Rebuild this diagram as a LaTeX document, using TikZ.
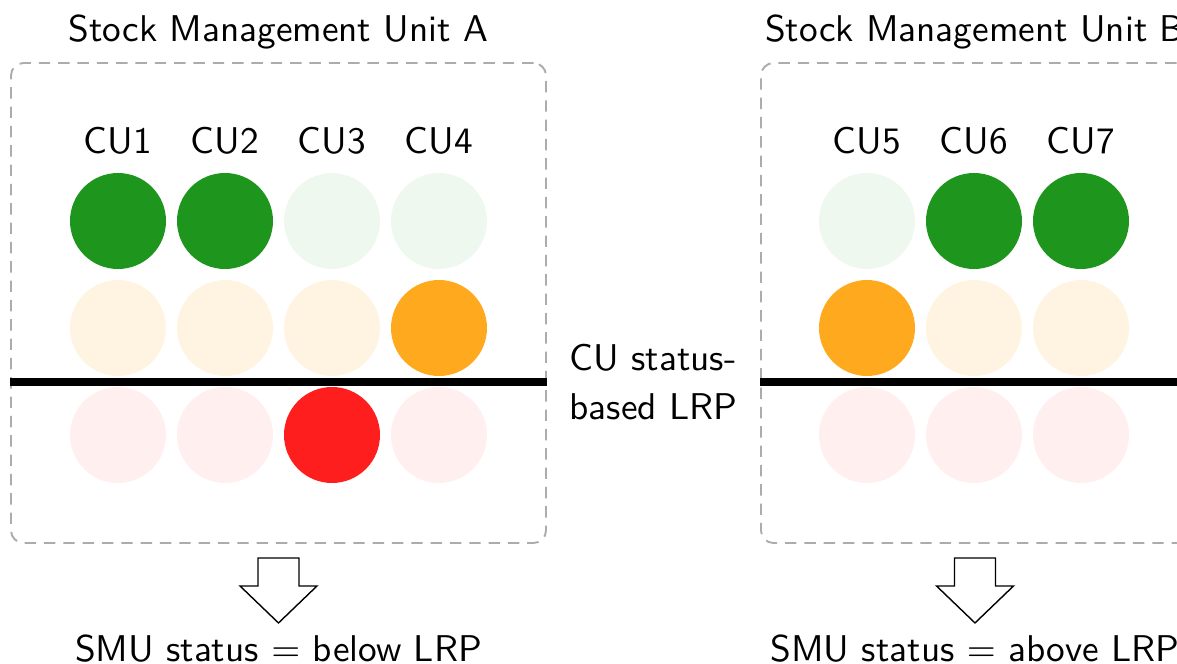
\documentclass[tikz,border=0pt]{standalone}
\usepackage{tikz}
\usetikzlibrary{positioning}
\definecolor{cugreen}{RGB}{30,150,30}
\definecolor{cuorange}{RGB}{255,170,30}
\definecolor{cured}{RGB}{255,30,30}

\begin{document}
\begin{tikzpicture}[
txt/.style={font=\sffamily\fontsize{10}{13}\selectfont,scale=2.12,transform shape},
cu/.style={circle,minimum size=1.92cm,inner sep=0pt},
smubox/.style={draw=gray!65,dash pattern=on 6.5pt off 4.5pt,line width=1.1pt,rounded corners=0.25cm,minimum height=9.6cm},
lrp/.style={line width=0.16cm},
down/.style={draw,line width=0.8pt,fill=white}]
\useasboundingbox (0,0) rectangle (23.54,-13.28);
\clip (0,0) rectangle (23.54,-13.28);

% unit A
\foreach \n/\lit [count=\i from 0] in {1/1,2/1,3/3,4/2} {
  \foreach \r/\col/\pale in {1/cugreen/7,2/cuorange/13,3/cured/7} {
    \pgfmathtruncatemacro\pc{\r==\lit ? 100 : \pale}
    \node (cu\n-\r) [cu,fill=\col!\pc] at ({2.36+2.14*\i},{-4.42-2.14*(\r-1)}) {};
  }
  \node [txt,above=0.1cm of cu\n-1] {CU\n};
}
\node (smuA) [smubox,minimum width=10.7cm] at (5.57,-6.06) {};
\node [txt,above=0pt of smuA] {Stock Management Unit A};
\draw[lrp] ([yshift=-1.58cm]smuA.west) -- ([yshift=-1.58cm]smuA.east);
\draw[down] ([yshift=-0.28cm]smuA.south) ++(-0.41,0) -- ++(0.82,0) -- ++(0,-0.56)
  -- ++(0.36,0) -- ++(-0.77,-0.74) -- ++(-0.77,0.74) -- ++(0.36,0) -- cycle;
\node (stA) [txt,anchor=base] at (5.57,-13.22) {SMU status $=$ below LRP};

% unit B
\foreach \n/\lit [count=\i from 0] in {5/2,6/1,7/1} {
  \foreach \r/\col/\pale in {1/cugreen/7,2/cuorange/13,3/cured/7} {
    \pgfmathtruncatemacro\pc{\r==\lit ? 100 : \pale}
    \node (cu\n-\r) [cu,fill=\col!\pc] at ({17.34+2.14*\i},{-4.42-2.14*(\r-1)}) {};
  }
  \node [txt,above=0.1cm of cu\n-1] {CU\n};
}
\node (smuB) [smubox,minimum width=8.56cm] at (19.5,-6.06) {};
\node [txt,above=0pt of smuB] {Stock Management Unit B};
\draw[lrp] ([yshift=-1.58cm]smuB.west) -- ([yshift=-1.58cm]smuB.east);
\draw[down] ([yshift=-0.28cm]smuB.south) ++(-0.41,0) -- ++(0.82,0) -- ++(0,-0.56)
  -- ++(0.36,0) -- ++(-0.77,-0.74) -- ++(-0.77,0.74) -- ++(0.36,0) -- cycle;
\node (stB) [txt,anchor=base] at (19.5,-13.22) {SMU status $=$ above LRP};

\node (cuLRP) [txt,align=left] at (13.07,-7.64) {CU status-\\based LRP};
\end{tikzpicture}
\end{document}
